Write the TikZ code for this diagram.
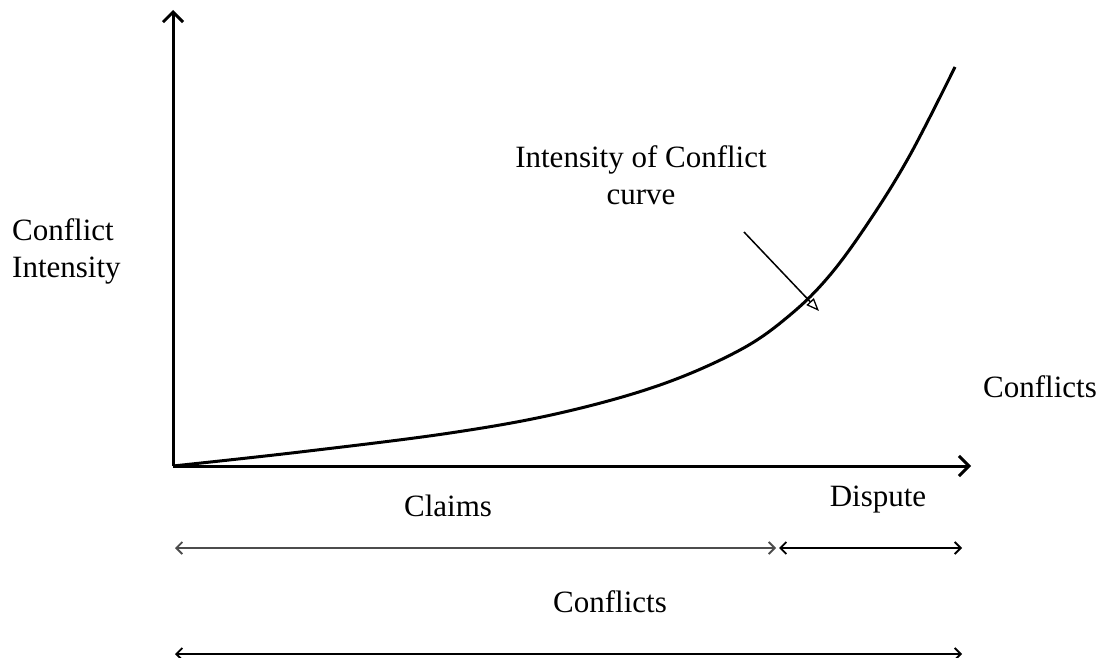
\documentclass[tikz,border=0pt]{standalone}
\usepackage{fontspec}
\setmainfont{Liberation Serif}
\usetikzlibrary{arrows.meta}
\begin{document}
\begin{tikzpicture}[x=1pt,y=-1pt,
  lbl/.style={font=\fontsize{31}{37}\selectfont, inner sep=0pt},
  axis/.style={line width=3pt, -{Straight Barb[length=10pt,width=20pt,line width=3pt]}},
  span/.style={line width=1.6pt, {Straight Barb[length=6pt,width=12pt,line width=1.8pt]}-{Straight Barb[length=6pt,width=12pt,line width=1.8pt]}},
  pointer/.style={line width=1.5pt, -{Triangle[open,length=13pt,width=10pt,line width=1.3pt]}}]
\useasboundingbox (0,0) rectangle (1108,658);
% axes
\coordinate (O) at (173,466);
\coordinate (ytop) at (173,10);
\coordinate (xend) at (971,466);
\draw[axis] (O) -- (ytop);
\draw[axis] (O) -- (xend);
% intensity curve
\draw[line width=3pt] plot[smooth, tension=0.6] coordinates
  {(173,466) (300,452) (450,433) (560,413) (660,385) (740,350) (790,315) (830,275) (870,220) (910,155) (955,67)};
% labels
\node[lbl, align=left, anchor=north west] (yl) at (12,218) {Conflict\\Intensity};
\node[lbl, align=center] (cl) at (641,175) {Intensity of Conflict\\curve};
\node[lbl] (xl) at (1040,387) {Conflicts};
\node[lbl] (claims) at (448,506) {Claims};
\node[lbl] (disp) at (878,500) {Dispute};
\node[lbl] (conf) at (610,602) {Conflicts};
% pointer to the curve
\coordinate (p0) at (744,232);
\coordinate (p1) at (819,311);
\draw[pointer] (p0) -- (p1);
% spans
\coordinate (a0) at (175,548);
\coordinate (a1) at (776,548);
\coordinate (b0) at (779,548);
\coordinate (b1) at (962,548);
\coordinate (c0) at (175,654);
\coordinate (c1) at (962,654);
\draw[span, draw=black!70] (a0) -- (a1);
\draw[span] (b0) -- (b1);
\draw[span] (c0) -- (c1);
\end{tikzpicture}
\end{document}
